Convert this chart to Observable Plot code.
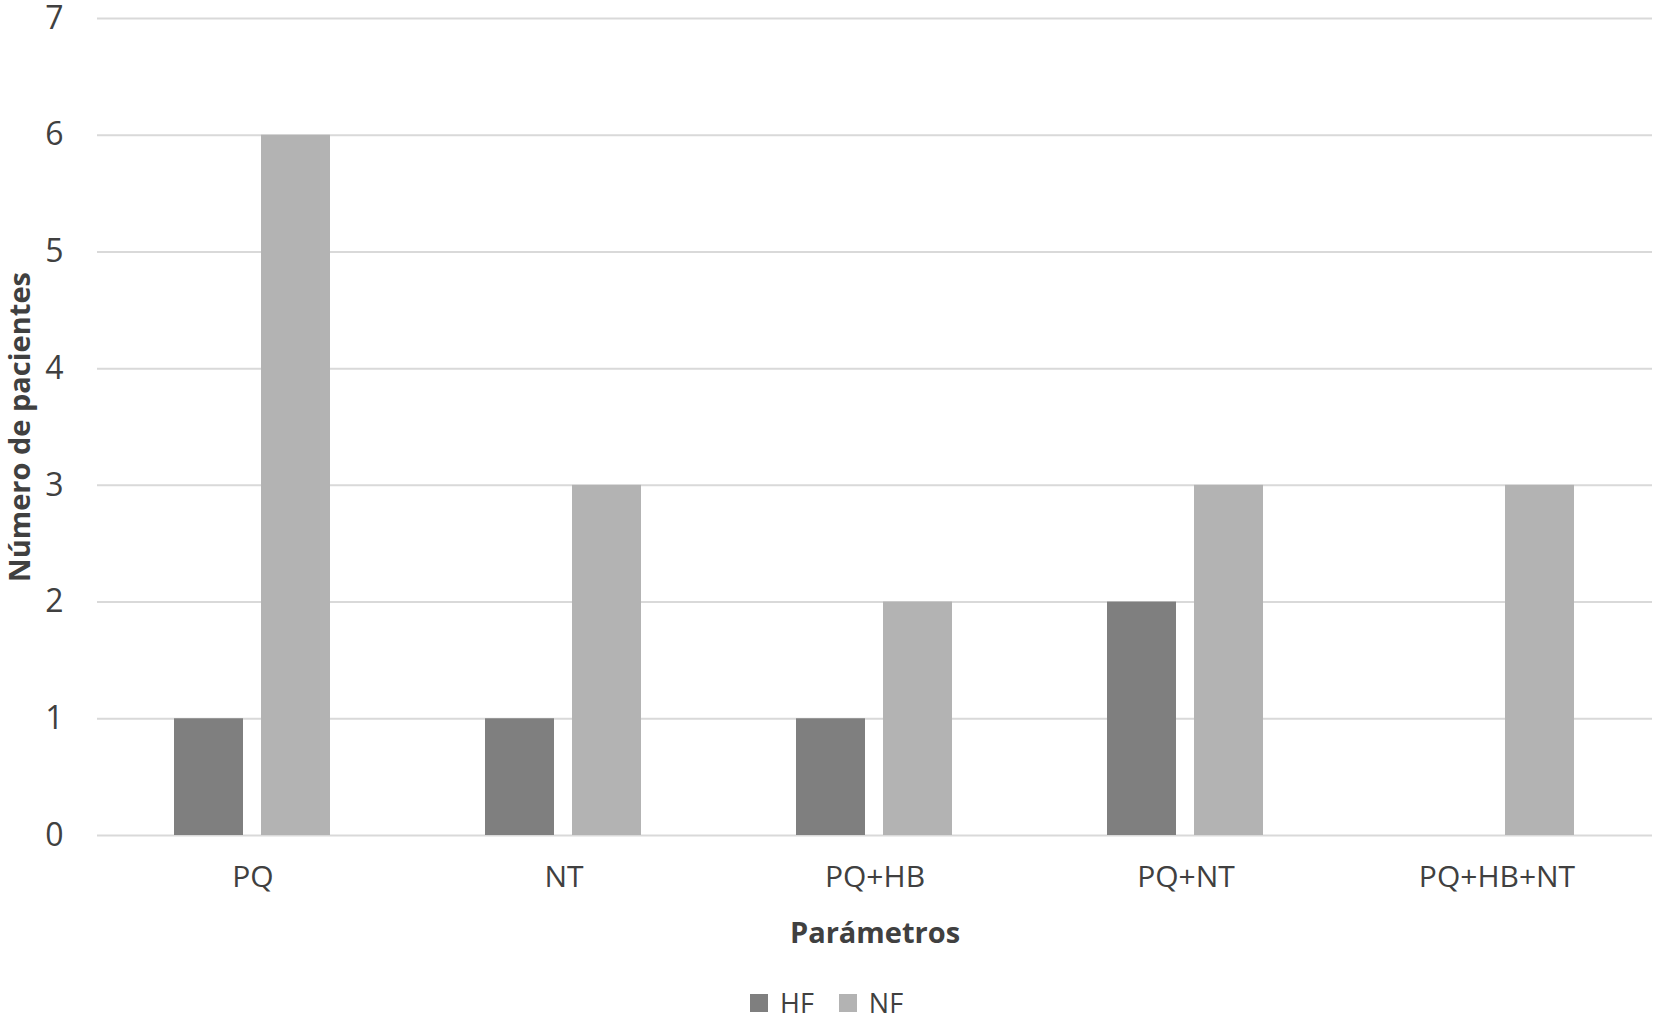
<!DOCTYPE html>
<html>
<head>
<meta charset="utf-8">
<script src="https://cdn.jsdelivr.net/npm/d3@7"></script>
<script src="https://cdn.jsdelivr.net/npm/@observablehq/plot@0.6"></script>
<style>
  html, body { margin: 0; padding: 0; background: #fff; }
  #wrap { position: relative; width: 1655px; height: 1018px; font-family: "Open Sans", Lato, sans-serif; }
  #wrap svg { display: block; font-family: "Open Sans", Lato, sans-serif; }
  g[aria-label="y-axis label"] text, g[aria-label="fx-axis label"] text {
    font-weight: bold; font-size: 29px; fill: #404040;
  }
  #legend { position: absolute; left: 750px; top: 989px; display: flex; align-items: center; font-size: 27px; color: #404040; line-height: 28px; }
  #legend .item { display: flex; align-items: center; margin-right: 25px; }
  #legend .sw { width: 18px; height: 18px; margin-right: 12px; }
</style>
</head>
<body>
<div id="wrap"></div>
<script>
const categories = ["PQ", "NT", "PQ+HB", "PQ+NT", "PQ+HB+NT"];
const series = ["HF", "NF"];
const hfValues = [1, 1, 1, 2, 0];
const nfValues = [6, 3, 2, 3, 3];
const yTicks = [0, 1, 2, 3, 4, 5, 6, 7];
const seriesColors = ["#7f7f7f", "#b3b3b3"];

const data = categories.flatMap((c, i) => [
  {category: c, series: "HF", value: hfValues[i]},
  {category: c, series: "NF", value: nfValues[i]}
]);

const chart = Plot.plot({
  width: 1655,
  height: 985,
  marginLeft: 97,
  marginRight: 3,
  marginTop: 18,
  marginBottom: 150,
  style: {background: "#fff", color: "#404040"},
  fx: {domain: categories, padding: 0},
  x: {domain: series, paddingInner: 0.2045, paddingOuter: 0.87, axis: null},
  y: {domain: [0, 7], axis: null},
  color: {domain: series, range: seriesColors},
  marks: [
    Plot.ruleY(yTicks, {y: d => d, stroke: "#d9d9d9", strokeWidth: 2}),
    Plot.barY(data, {fx: "category", x: "series", y: "value", fill: "series"}),
    Plot.axisY({ticks: yTicks, tickFormat: d3.format("d"), tickSize: 0, tickPadding: 34, fontSize: 32, fill: "#404040",
      label: "Número de pacientes", labelAnchor: "center", labelOffset: 88, labelArrow: "none"}),
    Plot.axisFx({anchor: "bottom", tickSize: 0, tickPadding: 30, fontSize: 30, fill: "#404040",
      label: "Parámetros", labelAnchor: "center", labelOffset: 107, labelArrow: "none"})
  ]
});

const wrap = document.getElementById("wrap");
wrap.appendChild(chart);

const legend = document.createElement("div");
legend.id = "legend";
series.forEach((s, i) => {
  const item = document.createElement("div");
  item.className = "item";
  const sw = document.createElement("div");
  sw.className = "sw";
  sw.style.background = seriesColors[i];
  const t = document.createElement("span");
  t.textContent = s;
  item.appendChild(sw);
  item.appendChild(t);
  legend.appendChild(item);
});
wrap.appendChild(legend);
</script>
</body>
</html>
